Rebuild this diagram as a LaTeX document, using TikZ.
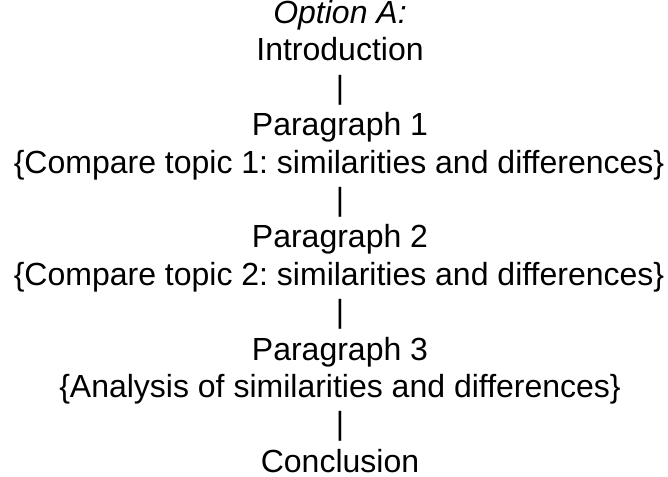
\documentclass[tikz,border=0pt]{standalone}
\usepackage{fontspec}
\setmainfont{Liberation Sans}
\frenchspacing
\usetikzlibrary{positioning}
\tikzset{
  % text lines of the outline, placed on their baseline
  outline/.style={inner sep=0pt,anchor=base,font=\fontsize{24}{28}\selectfont},
  title/.style={outline,font=\fontsize{24}{28}\selectfont\itshape},
}

\begin{document}
\begin{tikzpicture}[x=0.75pt,y=-0.75pt]
  \useasboundingbox (0,0) rectangle (668,477);
  \node[title] (opt) at (340,23.5) {Option A:};
  \node[outline] (intro) at (340,60.9) {Introduction};
  \node[outline] (bar1) at (340,98.3) {|};
  \node[outline] (par1) at (340,135.7) {Paragraph 1};
  \node[outline] (cmp1) at (339,173.1) {\{Compare topic 1: similarities and differences\}};
  \node[outline] (bar2) at (340,210.5) {|};
  \node[outline] (par2) at (340,247.9) {Paragraph 2};
  \node[outline] (cmp2) at (339,285.3) {\{Compare topic 2: similarities and differences\}};
  \node[outline] (bar3) at (340,322.7) {|};
  \node[outline] (par3) at (340,360.1) {Paragraph 3};
  \node[outline] (ana) at (340,397.5) {\{Analysis of similarities and differences\}};
  \node[outline] (bar4) at (340,434.9) {|};
  \node[outline] (concl) at (340,472.3) {Conclusion};
\end{tikzpicture}
\end{document}
